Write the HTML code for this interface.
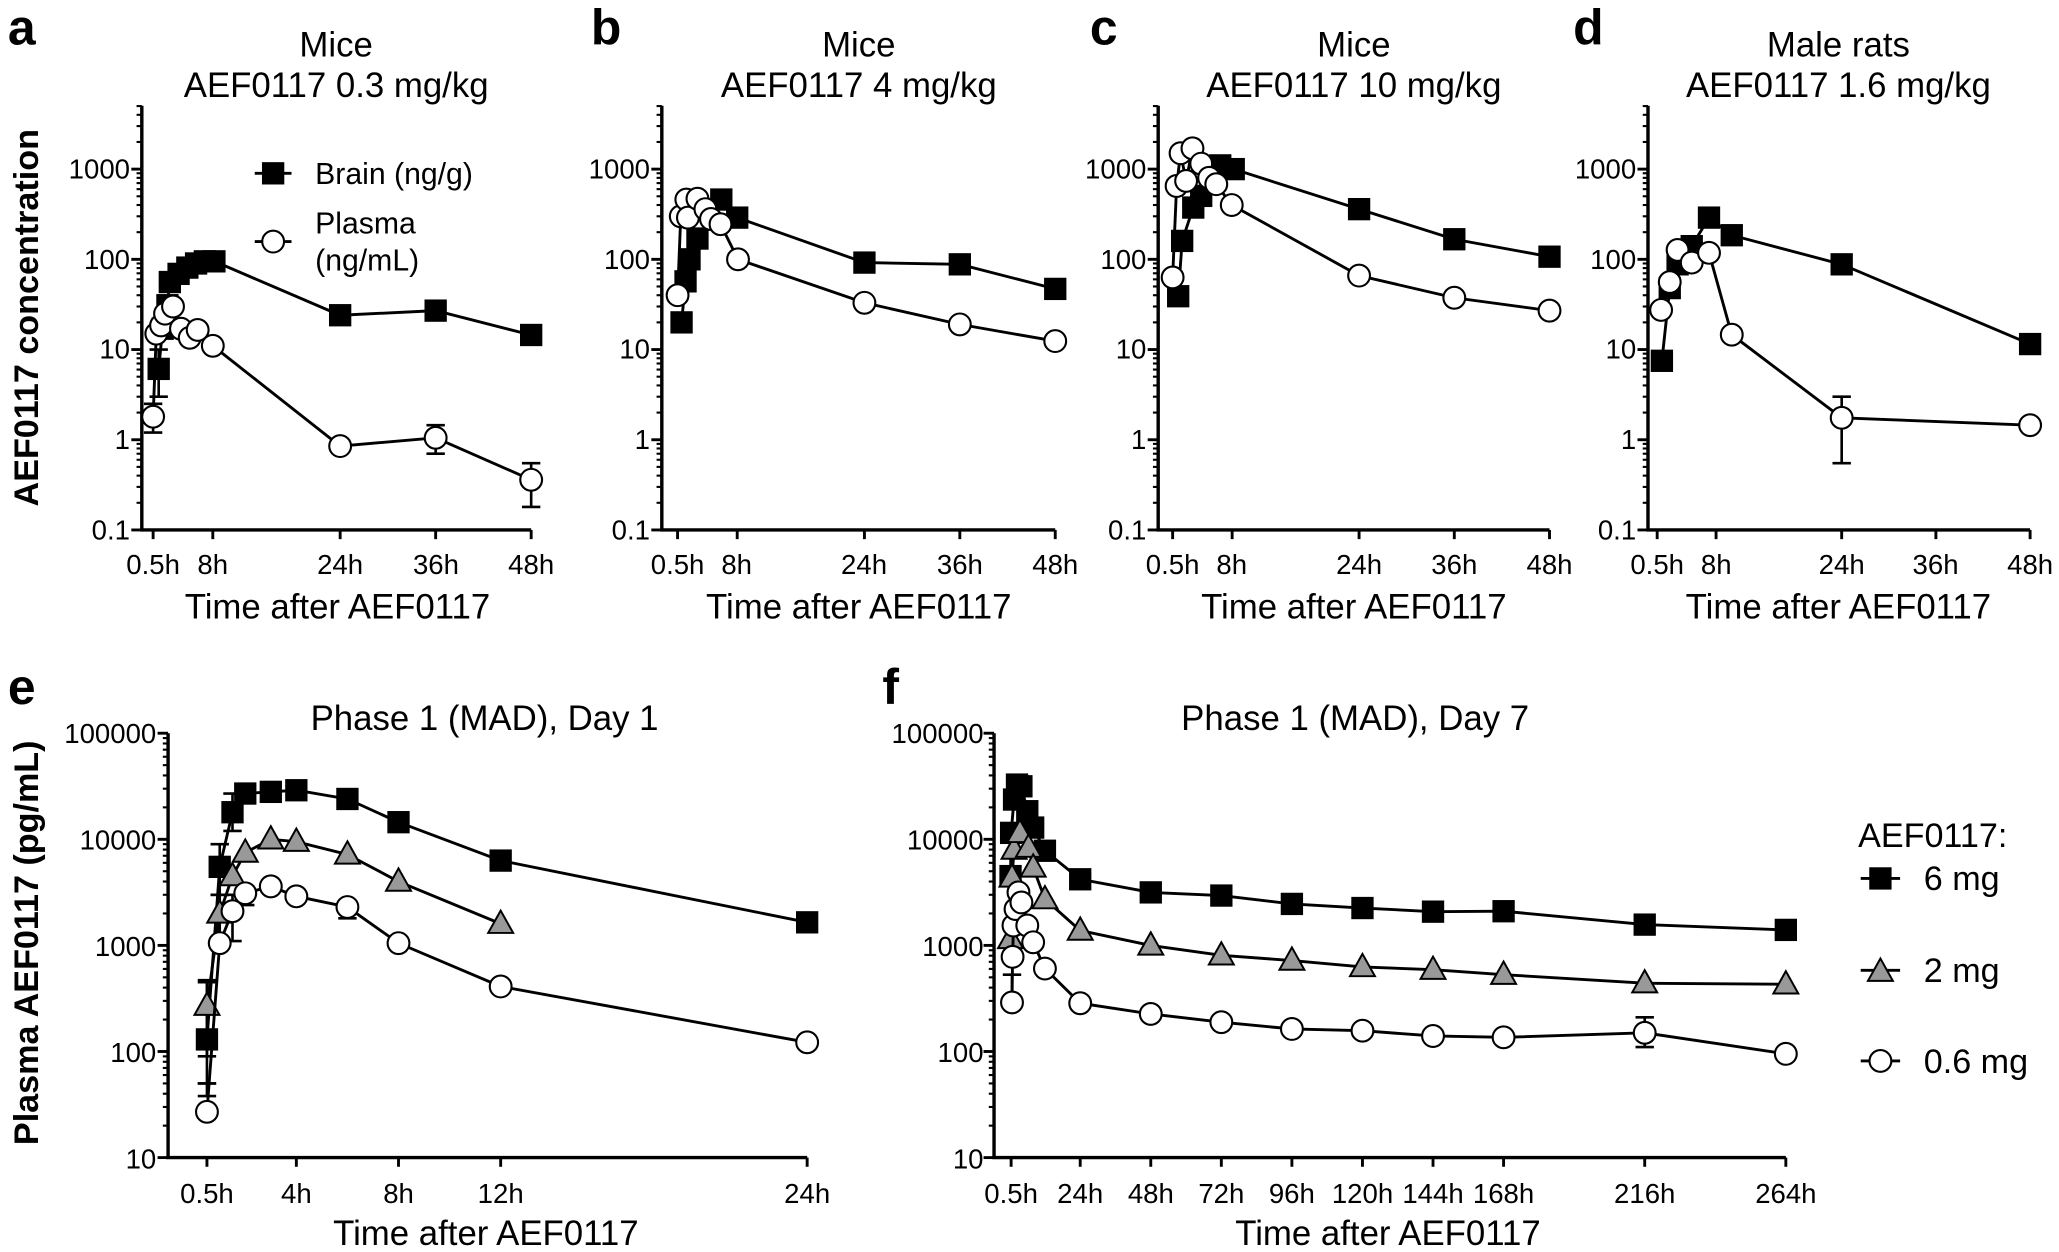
<!DOCTYPE html>
<html><head><meta charset="utf-8">
<style>
html,body{margin:0;padding:0;background:#fff;}
svg{display:block;}
text{font-family:"Liberation Sans",Arial,sans-serif;fill:#000;}
.t{font-size:21px;}
.ti{font-size:26.5px;}
.b{font-weight:bold;}
</style></head>
<body>
<svg id="s" width="2059" height="1252" viewBox="0 0 1568 953.5" preserveAspectRatio="none" xmlns="http://www.w3.org/2000/svg">
<rect x="0" y="0" width="1568" height="953.5" fill="#fff"/>
<g id="plots"></g>
<text class="b" x="6" y="34" font-size="38">a</text>
<text class="b" x="450" y="34" font-size="38">b</text>
<text class="b" x="830" y="34" font-size="38">c</text>
<text class="b" x="1198" y="34" font-size="38">d</text>
<text class="b" x="6" y="536" font-size="38">e</text>
<text class="b" x="672" y="536" font-size="38">f</text>
<g class="ti" text-anchor="middle">
<text x="256" y="43">Mice</text><text x="256" y="74">AEF0117 0.3 mg/kg</text>
<text x="654" y="43">Mice</text><text x="654" y="74">AEF0117 4 mg/kg</text>
<text x="1031" y="43">Mice</text><text x="1031" y="74">AEF0117 10 mg/kg</text>
<text x="1400" y="43">Male rats</text><text x="1400" y="74">AEF0117 1.6 mg/kg</text>
<text x="369" y="556">Phase 1 (MAD), Day 1</text>
<text x="1032" y="556">Phase 1 (MAD), Day 7</text>
<text x="257" y="471">Time after AEF0117</text>
<text x="654" y="471">Time after AEF0117</text>
<text x="1031" y="471">Time after AEF0117</text>
<text x="1400" y="471">Time after AEF0117</text>
<text x="370" y="948">Time after AEF0117</text>
<text x="1057" y="948">Time after AEF0117</text>
</g>
<text class="b" font-size="26" text-anchor="middle" transform="translate(29,242) rotate(-90)">AEF0117 concentration</text>
<text class="b" font-size="26" text-anchor="middle" transform="translate(29,718) rotate(-90)">Plasma AEF0117 (pg/mL)</text>
<g class="t" text-anchor="end">
<text x="99" y="136">1000</text><text x="99" y="205">100</text><text x="99" y="273">10</text><text x="99" y="342">1</text><text x="99" y="411">0.1</text>
<text x="495" y="136">1000</text><text x="495" y="205">100</text><text x="495" y="273">10</text><text x="495" y="342">1</text><text x="495" y="411">0.1</text>
<text x="873" y="136">1000</text><text x="873" y="205">100</text><text x="873" y="273">10</text><text x="873" y="342">1</text><text x="873" y="411">0.1</text>
<text x="1246" y="136">1000</text><text x="1246" y="205">100</text><text x="1246" y="273">10</text><text x="1246" y="342">1</text><text x="1246" y="411">0.1</text>
<text x="119" y="566">100000</text><text x="119" y="647">10000</text><text x="119" y="728">1000</text><text x="119" y="809">100</text><text x="119" y="890">10</text>
<text x="749" y="566">100000</text><text x="749" y="647">10000</text><text x="749" y="728">1000</text><text x="749" y="809">100</text><text x="749" y="890">10</text>
</g>
<g class="t" text-anchor="middle">
<text x="116.6" y="437">0.5h</text><text x="162" y="437">8h</text><text x="259" y="437">24h</text><text x="332" y="437">36h</text><text x="404.5" y="437">48h</text>
<text x="516" y="437">0.5h</text><text x="561" y="437">8h</text><text x="658" y="437">24h</text><text x="731" y="437">36h</text><text x="803.6" y="437">48h</text>
<text x="893" y="437">0.5h</text><text x="938" y="437">8h</text><text x="1035" y="437">24h</text><text x="1107.5" y="437">36h</text><text x="1180" y="437">48h</text>
<text x="1262" y="437">0.5h</text><text x="1307" y="437">8h</text><text x="1402.5" y="437">24h</text><text x="1474" y="437">36h</text><text x="1546" y="437">48h</text>
<text x="157.6" y="916">0.5h</text><text x="225.7" y="916">4h</text><text x="303.5" y="916">8h</text><text x="381.3" y="916">12h</text><text x="614.7" y="916">24h</text>
<text x="770" y="916">0.5h</text><text x="822.6" y="916">24h</text><text x="876.4" y="916">48h</text><text x="930.1" y="916">72h</text><text x="983.8" y="916">96h</text><text x="1037.6" y="916">120h</text><text x="1091.3" y="916">144h</text><text x="1145" y="916">168h</text><text x="1252.5" y="916">216h</text><text x="1360" y="916">264h</text>
</g>
<g id="lega"></g>
<text x="240" y="140" font-size="23">Brain (ng/g)</text>
<text x="240" y="178" font-size="23">Plasma</text>
<text x="240" y="206" font-size="23">(ng/mL)</text>
<g id="legf"></g>
<text x="1415" y="645" font-size="26">AEF0117:</text>
<text x="1465" y="678" font-size="26">6 mg</text>
<text x="1465" y="748" font-size="26">2 mg</text>
<text x="1465" y="817" font-size="26">0.6 mg</text>
</svg>
<script>
(function(){
var NS='http://www.w3.org/2000/svg';
var G=document.getElementById('plots');
function el(tag,a,p){var e=document.createElementNS(NS,tag);for(var k in a)e.setAttribute(k,a[k]);(p||G).appendChild(e);return e;}
function line(x1,y1,x2,y2,w,p){el('line',{x1:x1,y1:y1,x2:x2,y2:y2,stroke:'#000','stroke-width':w||2},p);}
function sq(x,y,p){el('rect',{x:x-8.5,y:y-8.5,width:17,height:17,fill:'#000'},p);}
function ci(x,y,p){el('circle',{cx:x,cy:y,r:8.3,fill:'#fff',stroke:'#000','stroke-width':1.6},p);}
function tr(x,y,p){el('polygon',{points:(x)+','+(y-10)+' '+(x-9.5)+','+(y+7)+' '+(x+9.5)+','+(y+7),fill:'#999',stroke:'#000','stroke-width':1.5},p);}
function axes(c){
  line(c.ax,c.top,c.ax,c.bot,2.6);
  line(c.ax-1.3,c.bot,c.xend,c.bot,2.6);
  for(var d=c.dmin;d<c.dmax;d++){
    for(var m=1;m<10;m++){
      var v=m*Math.pow(10,d);var y=c.Y(v);
      if(y<c.top-0.5)break;
      line(c.ax-(m==1?8:4),y,c.ax,y,m==1?2.2:1.6);
    }
  }
  var ytop=c.Y(Math.pow(10,c.dmax));
  if(ytop>=c.top-0.5)line(c.ax-8,ytop,c.ax,ytop,2.2);
  c.xt.forEach(function(t){var x=c.X(t);line(x,c.bot,x,c.bot+7,2.2);});
}
function series(c,data,mk){
  var pts=data.map(function(d){return [c.X(d[0]),c.Y(d[1])];});
  el('polyline',{points:pts.map(function(p){return p.join(',')}).join(' '),fill:'none',stroke:'#000','stroke-width':2.2});
  data.forEach(function(d){if(d.length>2){var x=c.X(d[0]);var y1=c.Y(d[2]),y2=c.Y(d[3]);line(x,y1,x,y2,2);line(x-7,y1,x+7,y1,2);line(x-7,y2,x+7,y2,2);}});
  pts.forEach(function(p){mk(p[0],p[1]);});
}
function top(ax,x0,x48){
  return {ax:ax,top:80.5,bot:403.6,xend:x48,dmin:-1,dmax:4,
    Y:function(v){return 403.6-(Math.log10(v)+1)*68.7;},
    X:function(t){return x0+(t-0.5)*(x48-x0)/47.5;},xt:[0.5,8,24,36,48]};
}
var A=top(108,116.6,404.5),B=top(504,516,803.6),C=top(882,893,1180),D=top(1255,1262,1546);
var Yb=function(v){return 881.6-(Math.log10(v)-1)*80.8;};
var E={ax:128,top:558.4,bot:881.6,xend:614.7,dmin:1,dmax:5,Y:Yb,X:function(t){return 157.6+(t-0.5)*19.45;},xt:[0.5,4,8,12,24]};
var F={ax:757,top:558.4,bot:881.6,xend:1360,dmin:1,dmax:5,Y:Yb,X:function(t){return 770+(t-0.5)*2.239;},xt:[0.5,24,48,72,96,120,144,168,216,264]};
[A,B,C,D,E,F].forEach(axes);
series(A,[[1.2,6.1,3,10],[1.7,17],[2.3,31],[2.6,56],[3.7,69],[4.8,81],[5.9,90],[7,95],[8.2,95],[24,24],[36,27],[48,14.5]],sq);
series(A,[[0.5,1.8,1.2,2.5],[0.9,15],[1.5,18.5],[2,25],[3,30],[4,17],[5.1,13.5],[6.1,16.5],[8,11],[24,0.85],[36,1.05,0.7,1.45],[48,0.36,0.18,0.55]],ci);
series(B,[[1,20],[1.5,57],[2,100],[3,170],[6,460],[8,290],[24,92],[36,88],[48,47]],sq);
series(B,[[0.5,40],[0.9,300],[1.6,460],[1.8,290],[3,470],[4,360],[4.7,280],[5.9,245],[8.1,100],[24,33],[36,19],[48,12.4]],ci);
series(C,[[1.2,39],[1.7,160],[3.1,375],[4.1,505],[6.5,1100],[8.2,1000],[24,360],[36,167],[48,107]],sq);
series(C,[[0.5,63],[1,650],[1.5,1500],[2.2,740],[3,1700],[4.1,1150],[5.1,800],[6,680],[7.95,400],[24,66],[36,37.5],[48,27]],ci);
series(D,[[1.1,7.5],[2.1,48],[3.1,88],[4.9,140],[7.1,290],[10,185],[24,88],[48,11.5]],sq);
series(D,[[1,27.5],[2.1,56],[3.1,127],[4.9,92],[7.1,118],[10,14.6],[24,1.75,0.55,3],[48,1.45]],ci);
series(E,[[0.5,130,50,470],[1,5500,3000,9000],[1.5,18000,12000,27000],[2,27000],[3,28000],[4,29000],[6,24000],[8,14500],[12,6300],[24,1650]],sq);
series(E,[[0.5,270,90,450],[1,2000,1100,3000],[1.5,4500],[2,7500],[3,10000],[4,9500],[6,7200],[8,4000],[12,1600]],tr);
series(E,[[0.5,27,38,50],[1,1050],[1.5,2100,1100,3000],[2,3100,2400,3600],[3,3600],[4,2900],[6,2300,1800,2300],[8,1050],[12,410],[24,122]],ci);
series(F,[[0.3,4500],[0.5,11500],[1.5,23700],[2.5,32800],[4,31600],[6,18400],[8,12900],[12,7800],[24,4200],[48,3160],[72,2950],[96,2460],[120,2250],[144,2080],[168,2100],[216,1570],[264,1400]],sq);
series(F,[[0.3,1150],[0.8,4370],[1.5,8000],[3.5,11500],[6.4,8350],[8,5430],[12,2730],[24,1380],[48,1000],[72,806],[96,720],[120,626],[144,590],[168,530],[216,440],[264,430]],tr);
series(F,[[0.8,290,290,530],[1,780],[1.3,1540],[2,2200],[3,3160],[4,2540],[6,1540],[8,1070],[12,605],[24,285],[48,226],[72,189],[96,163],[120,157],[144,140],[168,136],[216,150,110,210],[264,95]],ci);
var la=document.getElementById('lega');
line(194,132,222,132,2.2,la);sq(208,132,la);
line(194,184,222,184,2.2,la);ci(208,184,la);
var lf=document.getElementById('legf');
line(1417,669,1447,669,2.2,lf);sq(1432,669,lf);
line(1417,739,1447,739,2.2,lf);tr(1432,740,lf);
line(1417,808,1447,808,2.2,lf);ci(1432,808,lf);
})();
</script>
</body></html>
